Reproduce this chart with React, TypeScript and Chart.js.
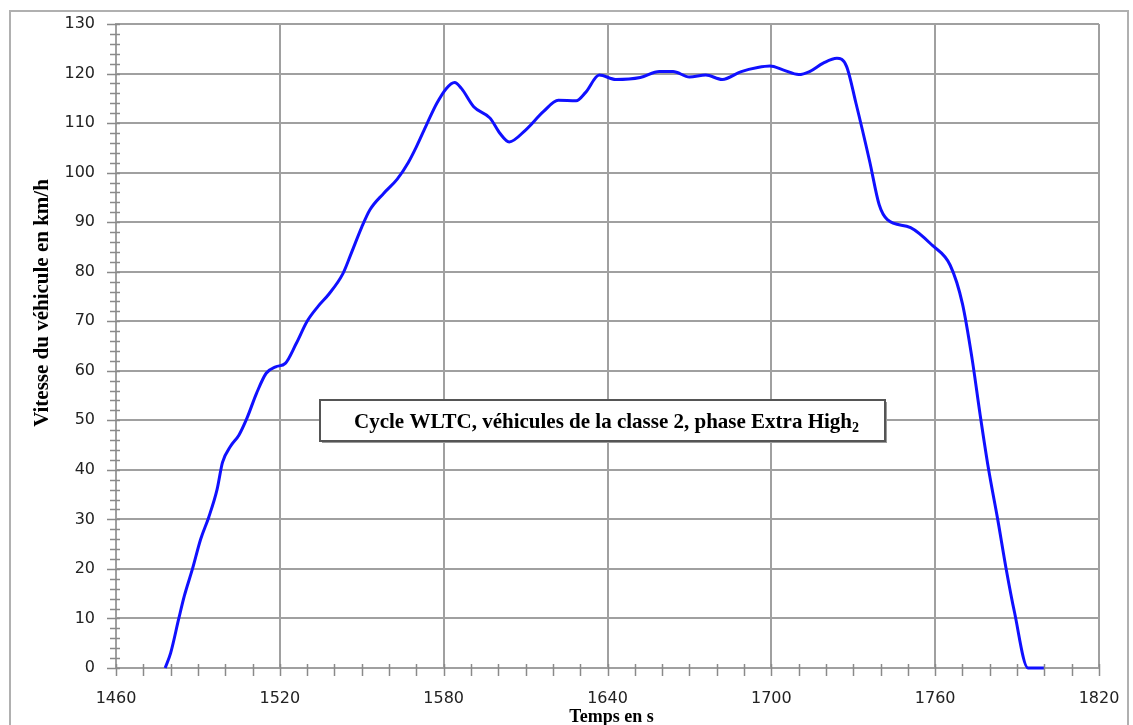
import React, { useEffect, useRef } from "react";
import { Chart, registerables } from "chart.js";

Chart.register(...registerables);

const times: number[] = [
  1478, 1480, 1483, 1485, 1488, 1491, 1494, 1497, 1499, 1502, 1505, 1508, 1511.5, 1515, 1518.5,
  1522, 1526, 1530, 1534, 1538, 1543, 1546, 1550, 1553, 1558, 1563, 1567, 1570, 1574, 1577.5,
  1581, 1584, 1586.5, 1591, 1597, 1600.5, 1604, 1610, 1616.5, 1622, 1628.5, 1632, 1637, 1643,
  1652, 1659, 1664, 1670, 1676, 1682, 1689, 1695, 1699.5, 1704.5, 1710, 1714, 1719, 1724,
  1727.5, 1731, 1736, 1739.5, 1742.5, 1751, 1759, 1765.5, 1770, 1773.5, 1776.5, 1779.5, 1783,
  1786, 1789, 1794, 1800,
];

const speeds: number[] = [
  0, 3, 10, 14.5, 20, 26, 30.5, 36, 41.5, 44.8, 47, 50.5, 55.5, 59.5, 60.8,
  61.5, 65.5, 70, 73, 75.5, 79.5, 83.5, 89, 92.5, 95.8, 98.7, 102, 105.2, 110, 114,
  117, 118.2, 117, 113.3, 111, 108, 106.2, 108.6, 112.3, 114.6, 114.5, 116.2, 119.7, 118.8,
  119.2, 120.4, 120.4, 119.3, 119.7, 118.8, 120.4, 121.2, 121.5, 120.7, 119.8, 120.4, 122.1, 123.1,
  121.5, 114, 102.3, 93.5, 90.5, 88.9, 85.3, 81.3, 73.5, 62.5, 51, 40.3, 29.7,
  20, 11.4, 0, 0,
];

const xMin = 1460;
const xMax = 1820;
const xStep = 60;
const xMinorStep = 10;
const yMin = 0;
const yMax = 130;
const yStep = 10;
const yMinorStep = 2;

const yTitle = "Vitesse du véhicule en km/h";
const xTitle = "Temps en s";
const boxText = "Cycle WLTC, véhicules de la classe 2, phase Extra High";
const boxSub = "2";

const GRID = "#a0a0a0";
const TICKCOL = "#8a8a8a";
const SERIF = "'Liberation Serif', 'Times New Roman', serif";

const decorPlugin = {
  id: "decor",
  beforeDraw(chart: any) {
    const ctx = chart.ctx;
    ctx.save();
    ctx.fillStyle = "#ffffff";
    ctx.fillRect(0, 0, chart.width, chart.height);
    ctx.strokeStyle = "#b0b0b0";
    ctx.lineWidth = 2;
    ctx.strokeRect(10, 11, 1118, 760);
    ctx.restore();
  },
  afterDraw(chart: any) {
    const ctx = chart.ctx;
    const xs = chart.scales.x;
    const ys = chart.scales.y;
    const area = chart.chartArea;
    ctx.save();
    ctx.strokeStyle = TICKCOL;
    ctx.lineWidth = 1.5;
    for (let v = yMin; v <= yMax; v += yMinorStep) {
      const y = Math.round(ys.getPixelForValue(v)) + 0.5;
      const major = v % yStep === 0;
      ctx.beginPath();
      ctx.moveTo(area.left - (major ? 9 : 6), y);
      ctx.lineTo(area.left + 4, y);
      ctx.stroke();
    }
    for (let t = xMin; t <= xMax; t += xMinorStep) {
      const x = Math.round(xs.getPixelForValue(t)) + 0.5;
      ctx.beginPath();
      ctx.moveTo(x, area.bottom - 4);
      ctx.lineTo(x, area.bottom + 8);
      ctx.stroke();
    }
    ctx.fillStyle = "#000";
    ctx.font = "bold 21px " + SERIF;
    ctx.textAlign = "center";
    ctx.textBaseline = "middle";
    ctx.save();
    ctx.translate(43, 303);
    ctx.rotate(-Math.PI / 2);
    ctx.fillText(yTitle, 0, 0);
    ctx.restore();
    ctx.font = "bold 18px " + SERIF;
    ctx.textBaseline = "alphabetic";
    ctx.fillText(xTitle, (area.left + area.right) / 2 + 4, 722);

    const bx = 320, by = 400, bw = 565, bh = 41;
    ctx.fillStyle = "#9a9a9a";
    ctx.fillRect(bx + 2, by + 2, bw, bh);
    ctx.fillStyle = "#ffffff";
    ctx.fillRect(bx, by, bw, bh);
    ctx.strokeStyle = "#555";
    ctx.lineWidth = 2;
    ctx.strokeRect(bx, by, bw, bh);
    ctx.fillStyle = "#000";
    ctx.textAlign = "left";
    ctx.font = "bold 21px " + SERIF;
    const mainW = ctx.measureText(boxText).width;
    ctx.font = "bold 14px " + SERIF;
    const subW = ctx.measureText(boxSub).width;
    const startX = bx + bw / 2 - (mainW + subW) / 2 + 4;
    ctx.font = "bold 21px " + SERIF;
    ctx.fillText(boxText, startX, by + 28);
    ctx.font = "bold 14px " + SERIF;
    ctx.fillText(boxSub, startX + mainW, by + 32);
    ctx.restore();
  },
};

const noPad = (s: any) => {
  s.paddingLeft = 0;
  s.paddingRight = 0;
  s.paddingTop = 0;
  s.paddingBottom = 0;
};

export default function App() {
  const ref = useRef<HTMLCanvasElement | null>(null);
  useEffect(() => {
    document.body.style.margin = "0";
    const canvas = ref.current;
    if (!canvas) return;
    const tickFont = { family: "'DejaVu Sans', Verdana, sans-serif", size: 16 };
    const chart = new Chart(canvas, {
      type: "line",
      data: {
        datasets: [
          {
            data: times.map((t, i) => ({ x: t, y: speeds[i] })),
            borderColor: "#1010ff",
            borderWidth: 3,
            pointRadius: 0,
            cubicInterpolationMode: "monotone",
            fill: false,
            clip: 6,
          } as any,
        ],
      },
      options: {
        responsive: false,
        animation: false,
        devicePixelRatio: 1,
        layout: { padding: { left: 0, top: 24, right: 34, bottom: 0 } },
        plugins: { legend: { display: false }, tooltip: { enabled: false } },
        scales: {
          x: {
            type: "linear",
            min: xMin,
            max: xMax,
            afterFit: (s: any) => {
              s.height = 57;
              noPad(s);
            },
            ticks: {
              stepSize: xStep,
              padding: 21,
              color: "#222",
              font: tickFont,
              maxRotation: 0,
              callback: (v: any) => String(v),
            },
            grid: { color: GRID, lineWidth: 2, drawTicks: false },
            border: { color: GRID, width: 2 },
          },
          y: {
            min: yMin,
            max: yMax,
            afterFit: (s: any) => {
              s.width = 116;
              noPad(s);
            },
            ticks: {
              stepSize: yStep,
              padding: 21,
              color: "#222",
              font: tickFont,
              callback: (v: any) => String(v),
            },
            grid: { color: GRID, lineWidth: 2, drawTicks: false },
            border: { color: GRID, width: 2 },
          },
        },
      },
      plugins: [decorPlugin],
    });
    return () => chart.destroy();
  }, []);
  return <canvas ref={ref} width={1133} height={725} style={{ display: "block" }} />;
}
